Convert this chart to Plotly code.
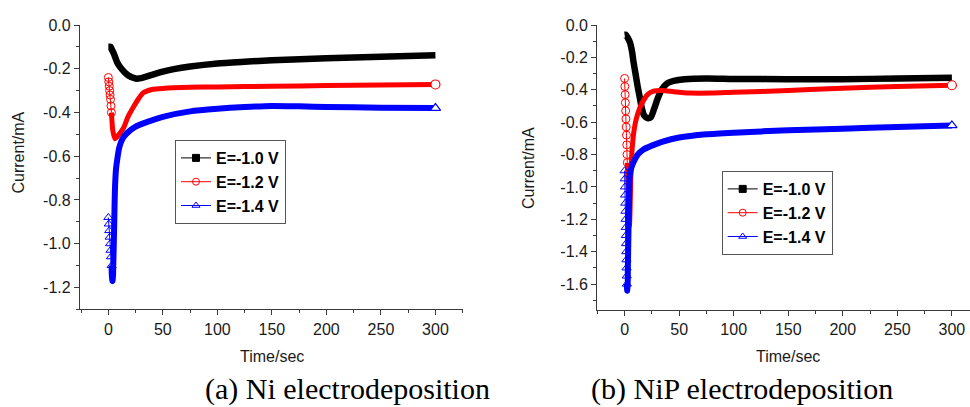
import plotly.graph_objects as go

# ---------------- data ----------------
# (a) Ni electrodeposition
t_ni_10 = [0, 1, 2, 3, 5, 8, 12, 18, 25, 30, 40, 50, 60, 75, 100, 125, 150, 200, 250, 300]
i_ni_10 = [-0.10, -0.10, -0.10, -0.11, -0.13, -0.17, -0.20, -0.23, -0.245, -0.243, -0.228, -0.213,
           -0.202, -0.19, -0.176, -0.168, -0.161, -0.152, -0.145, -0.138]

t_ni_12 = [0, 0.4, 0.8, 1.2, 1.6, 2.0, 2.4, 2.8, 3.2, 4, 6, 9, 14, 18, 23, 28, 32, 40, 50, 75,
           100, 150, 200, 250, 300]
i_ni_12 = [-0.24, -0.26, -0.28, -0.30, -0.32, -0.34, -0.37, -0.40, -0.43, -0.48, -0.52, -0.505,
           -0.47, -0.42, -0.375, -0.335, -0.31, -0.295, -0.29, -0.285, -0.283, -0.28, -0.277,
           -0.274, -0.272]

t_ni_14 = [0, 0.4, 0.8, 1.2, 1.6, 2.0, 2.4, 3.0, 3.5, 4.0, 4.5, 5.0, 5.5, 6.0, 7.0, 8, 10, 13, 17,
           25, 32, 50, 75, 100, 125, 150, 175, 200, 250, 300]
i_ni_14 = [-0.88, -0.91, -0.94, -0.97, -1.00, -1.03, -1.06, -1.10, -1.17, -1.17, -1.10, -1.00,
           -0.88, -0.76, -0.66, -0.62, -0.56, -0.52, -0.495, -0.465, -0.45, -0.42, -0.395, -0.383,
           -0.375, -0.37, -0.372, -0.375, -0.378, -0.38]

# (b) NiP electrodeposition
t_nip_10 = [0, 1, 3, 5, 7, 8, 10, 12, 14, 16, 18, 21, 24, 27, 30, 34, 39, 45, 55, 75, 100, 150,
            200, 250, 300]
i_nip_10 = [-0.06, -0.06, -0.08, -0.11, -0.17, -0.22, -0.30, -0.38, -0.45, -0.52, -0.56, -0.575,
            -0.57, -0.52, -0.46, -0.40, -0.36, -0.345, -0.335, -0.33, -0.333, -0.335, -0.335,
            -0.33, -0.325]

t_nip_12 = [0, 0.25, 0.5, 0.75, 1.0, 1.25, 1.5, 1.75, 2.0, 2.25, 2.5, 3.0, 3.5, 4.0, 4.5, 5.0,
            5.5, 6.0, 7.0, 8.5, 10, 12, 14, 17, 21, 26, 35, 45, 60, 80, 100, 150, 200, 250, 300]
i_nip_12 = [-0.33, -0.38, -0.43, -0.48, -0.53, -0.58, -0.63, -0.68, -0.74, -0.80, -0.85, -0.95,
            -1.05, -1.15, -1.24, -1.15, -1.00, -0.88, -0.76, -0.66, -0.60, -0.55, -0.51, -0.47,
            -0.43, -0.41, -0.405, -0.412, -0.42, -0.42, -0.415, -0.405, -0.39, -0.38, -0.372]

t_nip_14 = [0, 0.15, 0.3, 0.45, 0.6, 0.75, 0.9, 1.05, 1.2, 1.35, 1.5, 1.65, 1.8, 1.95, 2.1,
            2.3, 2.6, 3.0, 3.5, 4.0, 4.5, 5.5, 8, 12, 17, 25, 35, 50, 75, 100, 150, 200, 250, 300]
i_nip_14 = [-0.90, -0.95, -1.00, -1.05, -1.10, -1.15, -1.20, -1.25, -1.30, -1.35, -1.40, -1.45,
            -1.50, -1.55, -1.60, -1.64, -1.64, -1.50, -1.30, -1.10, -0.95, -0.90, -0.85, -0.80,
            -0.77, -0.745, -0.72, -0.695, -0.675, -0.665, -0.65, -0.64, -0.63, -0.62]

series_names = ["E=-1.0 V", "E=-1.2 V", "E=-1.4 V"]

x_tickvals = [0, 50, 100, 150, 200, 250, 300]
x_ticktext = ["0", "50", "100", "150", "200", "250", "300"]
x_minorvals = [-25, 25, 75, 125, 175, 225, 275, 325]

y_tickvals_a = [0.0, -0.2, -0.4, -0.6, -0.8, -1.0, -1.2]
y_ticktext_a = ["0.0", "-0.2", "-0.4", "-0.6", "-0.8", "-1.0", "-1.2"]
y_minorvals_a = [-0.1, -0.3, -0.5, -0.7, -0.9, -1.1, -1.3]

y_tickvals_b = [0.0, -0.2, -0.4, -0.6, -0.8, -1.0, -1.2, -1.4, -1.6]
y_ticktext_b = ["0.0", "-0.2", "-0.4", "-0.6", "-0.8", "-1.0", "-1.2", "-1.4", "-1.6"]
y_minorvals_b = [-0.1, -0.3, -0.5, -0.7, -0.9, -1.1, -1.3, -1.5, -1.7]

captions = ["(a) Ni electrodeposition", "(b) NiP electrodeposition"]

# ---------------- styles ----------------
BLACK, RED, BLUE = "#000000", "#ff0000", "#0000ff"
styles = [
    dict(color=BLACK, symbol="square", fill=BLACK, lw=6.5, size=6),
    dict(color=RED, symbol="circle", fill="rgba(0,0,0,0)", lw=5, size=8),
    dict(color=BLUE, symbol="triangle-up", fill="rgba(0,0,0,0)", lw=6, size=8),
]

fig = go.Figure()


def add_series(t, cur, n_sparse, st, xa, ya):
    if n_sparse > 0:
        fig.add_trace(go.Scatter(
            x=t[:n_sparse], y=cur[:n_sparse], mode="lines+markers", xaxis=xa, yaxis=ya,
            line=dict(color=st["color"], width=1),
            marker=dict(symbol=st["symbol"], size=st["size"], color=st["fill"],
                        line=dict(color=st["color"], width=1)),
            showlegend=False, hoverinfo="skip"))
        start = n_sparse - 1
    else:
        start = 0
    fig.add_trace(go.Scatter(
        x=t[start:], y=cur[start:], mode="lines", xaxis=xa, yaxis=ya,
        line=dict(color=st["color"], width=st["lw"], shape="spline", smoothing=0.6),
        showlegend=False, hoverinfo="skip"))
    if st["fill"] != BLACK:
        fig.add_trace(go.Scatter(
            x=t[-1:], y=cur[-1:], mode="markers", xaxis=xa, yaxis=ya,
            marker=dict(symbol=st["symbol"], size=st["size"] + 1, color="#ffffff",
                        line=dict(color=st["color"], width=1.2)),
            showlegend=False, hoverinfo="skip"))


add_series(t_ni_10, i_ni_10, 0, styles[0], "x", "y")
add_series(t_ni_12, i_ni_12, 8, styles[1], "x", "y")
add_series(t_ni_14, i_ni_14, 8, styles[2], "x", "y")
add_series(t_nip_10, i_nip_10, 0, styles[0], "x2", "y2")
add_series(t_nip_12, i_nip_12, 11, styles[1], "x2", "y2")
add_series(t_nip_14, i_nip_14, 15, styles[2], "x2", "y2")

# legend entries (thin line + marker)
for leg, xa, ya in [("legend", "x", "y"), ("legend2", "x2", "y2")]:
    for name, st in zip(series_names, styles):
        fig.add_trace(go.Scatter(
            x=[None], y=[None], mode="lines+markers", name=name, legend=leg,
            xaxis=xa, yaxis=ya,
            line=dict(color=st["color"], width=1),
            marker=dict(symbol=st["symbol"], size=7, color=st["fill"],
                        line=dict(color=st["color"], width=1))))

W, H = 970, 407
AX = "#3a3a3a"
tickfont = dict(family="Arial, Liberation Sans, sans-serif", size=16, color="#1a1a1a")


def xaxis(domain, rng, anchor):
    return dict(domain=domain, range=rng, anchor=anchor, showgrid=False, zeroline=False,
                automargin=False,
                showline=True, linecolor=AX, linewidth=1.3, mirror=False,
                tickmode="array", tickvals=x_tickvals, ticktext=x_ticktext,
                ticks="outside", ticklen=5, tickwidth=1.2, tickcolor=AX, tickfont=tickfont,
                minor=dict(tickmode="array", tickvals=x_minorvals, ticks="outside",
                           ticklen=3, tickwidth=1, tickcolor=AX))


def yaxis(domain, rng, anchor, tv, tt, mv):
    return dict(domain=domain, range=rng, anchor=anchor, showgrid=False, zeroline=False,
                automargin=False,
                showline=True, linecolor=AX, linewidth=1.3, mirror=False,
                tickmode="array", tickvals=tv, ticktext=tt,
                ticks="outside", ticklen=5, tickwidth=1.2, tickcolor=AX, tickfont=tickfont,
                minor=dict(tickmode="array", tickvals=mv, ticks="outside",
                           ticklen=3, tickwidth=1, tickcolor=AX))


legfont = dict(family="Arial, Liberation Sans, sans-serif", size=16, color="#000", weight="bold")
legstyle = dict(bgcolor="#ffffff", bordercolor="#555", borderwidth=1, font=legfont,
                xanchor="left", yanchor="top", itemwidth=30, tracegroupgap=0)

fig.update_layout(
    width=W, height=H, margin=dict(l=0, r=0, t=0, b=0, autoexpand=False),
    paper_bgcolor="white", plot_bgcolor="white",
    xaxis=xaxis([80 / W, 462.7 / W], [-26, 325], "y"),
    yaxis=yaxis([1 - 309.3 / H, 1 - 25 / H], [-1.3, 0.0], "x",
                y_tickvals_a, y_ticktext_a, y_minorvals_a),
    xaxis2=xaxis([597.3 / W, 1.0], [-25, 316.6], "y2"),
    yaxis2=yaxis([1 - 310 / H, 1 - 25 / H], [-1.76, 0.0], "x2",
                 y_tickvals_b, y_ticktext_b, y_minorvals_b),
    legend=dict(x=175 / W, y=1 - 140 / H, **legstyle),
    legend2=dict(x=721.7 / W, y=1 - 171 / H, **legstyle),
    showlegend=True,
)

titlefont = dict(family="Arial, Liberation Sans, sans-serif", size=16, color="#1a1a1a")
ann = [
    dict(text="Current/mA", x=17.5 / W, y=1 - 153 / H, textangle=-90, font=titlefont),
    dict(text="Current/mA", x=528 / W, y=1 - 168 / H, textangle=-90, font=titlefont),
    dict(text="Time/sec", x=271.7 / W, y=1 - 356 / H, font=titlefont),
    dict(text="Time/sec", x=788 / W, y=1 - 356 / H, font=titlefont),
]
capfont = dict(family="Times New Roman, Liberation Serif, serif", size=30, color="#000")
ann.append(dict(text=captions[0], x=347.5 / W, y=1 - 389 / H, font=capfont))
ann.append(dict(text=captions[1], x=741.7 / W, y=1 - 389 / H, font=capfont))
for a in ann:
    a.update(xref="paper", yref="paper", showarrow=False, xanchor="center", yanchor="middle")
fig.update_layout(annotations=ann)

fig.write_html(
    "out.html",
    config={"displayModeBar": False},
    post_script="document.body.style.margin='0';document.body.style.overflow='hidden';",
)
